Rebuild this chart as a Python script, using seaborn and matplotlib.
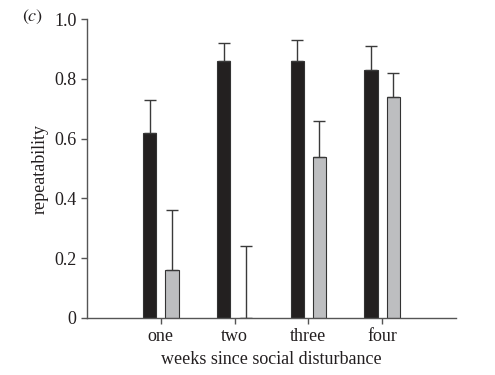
import pandas as pd
import numpy as np
import matplotlib
matplotlib.use('Agg')
import matplotlib.pyplot as plt
import seaborn as sns

weeks = ['one', 'two', 'three', 'four']
group_a = [0.62, 0.86, 0.86, 0.83]
group_b = [0.16, 0.0, 0.54, 0.74]
upper_a = [0.73, 0.92, 0.93, 0.91]
upper_b = [0.36, 0.24, 0.66, 0.82]

df = pd.DataFrame({
    'week': weeks * 2,
    'rep': group_a + group_b,
    'upper': upper_a + upper_b,
    'group': ['a'] * 4 + ['b'] * 4,
})

sns.set_style('ticks')
plt.rcParams['font.family'] = ['Liberation Serif', 'DejaVu Serif']
plt.rcParams['mathtext.fontset'] = 'stix'

fig = plt.figure(figsize=(4.95, 3.75), dpi=100)
ax = fig.add_axes([0.176, 0.152, 0.745, 0.797])

sns.barplot(data=df, x='week', y='rep', hue='group', order=weeks,
            palette={'a': '#231f20', 'b': '#bcbec0'}, width=0.6, gap=0.4,
            edgecolor='#333333', linewidth=0.8, legend=False, ax=ax)

# upper-only error bars, placed on the bar centres
for bar, (_, row) in zip(ax.patches, df.iterrows()):
    cx = bar.get_x() + bar.get_width() / 2
    ax.errorbar(cx, row['rep'], yerr=[[0], [row['upper'] - row['rep']]],
                fmt='none', ecolor='#3a3a3a', elinewidth=1.0, capsize=4, capthick=1.0)

ax.set_xlim(-1, 4)
ax.set_ylim(0, 1.0)
ax.set_yticks([0, 0.2, 0.4, 0.6, 0.8, 1.0])
ax.set_yticklabels(['0', '0.2', '0.4', '0.6', '0.8', '1.0'])
ax.set_xlabel('weeks since social disturbance', fontsize=13, color='#231f20')
ax.set_ylabel('repeatability', fontsize=13, color='#231f20')
ax.tick_params(axis='both', labelsize=13, colors='#555555', labelcolor='#231f20',
               length=4, width=1)
for s in ['top', 'right']:
    ax.spines[s].set_visible(False)
for s in ['left', 'bottom']:
    ax.spines[s].set_color('#555555')
    ax.spines[s].set_linewidth(1)

fig.text(0.045, 0.945, r'$(\mathit{c})$', fontsize=13, color='#231f20')

fig.savefig('out.png', dpi=100)
